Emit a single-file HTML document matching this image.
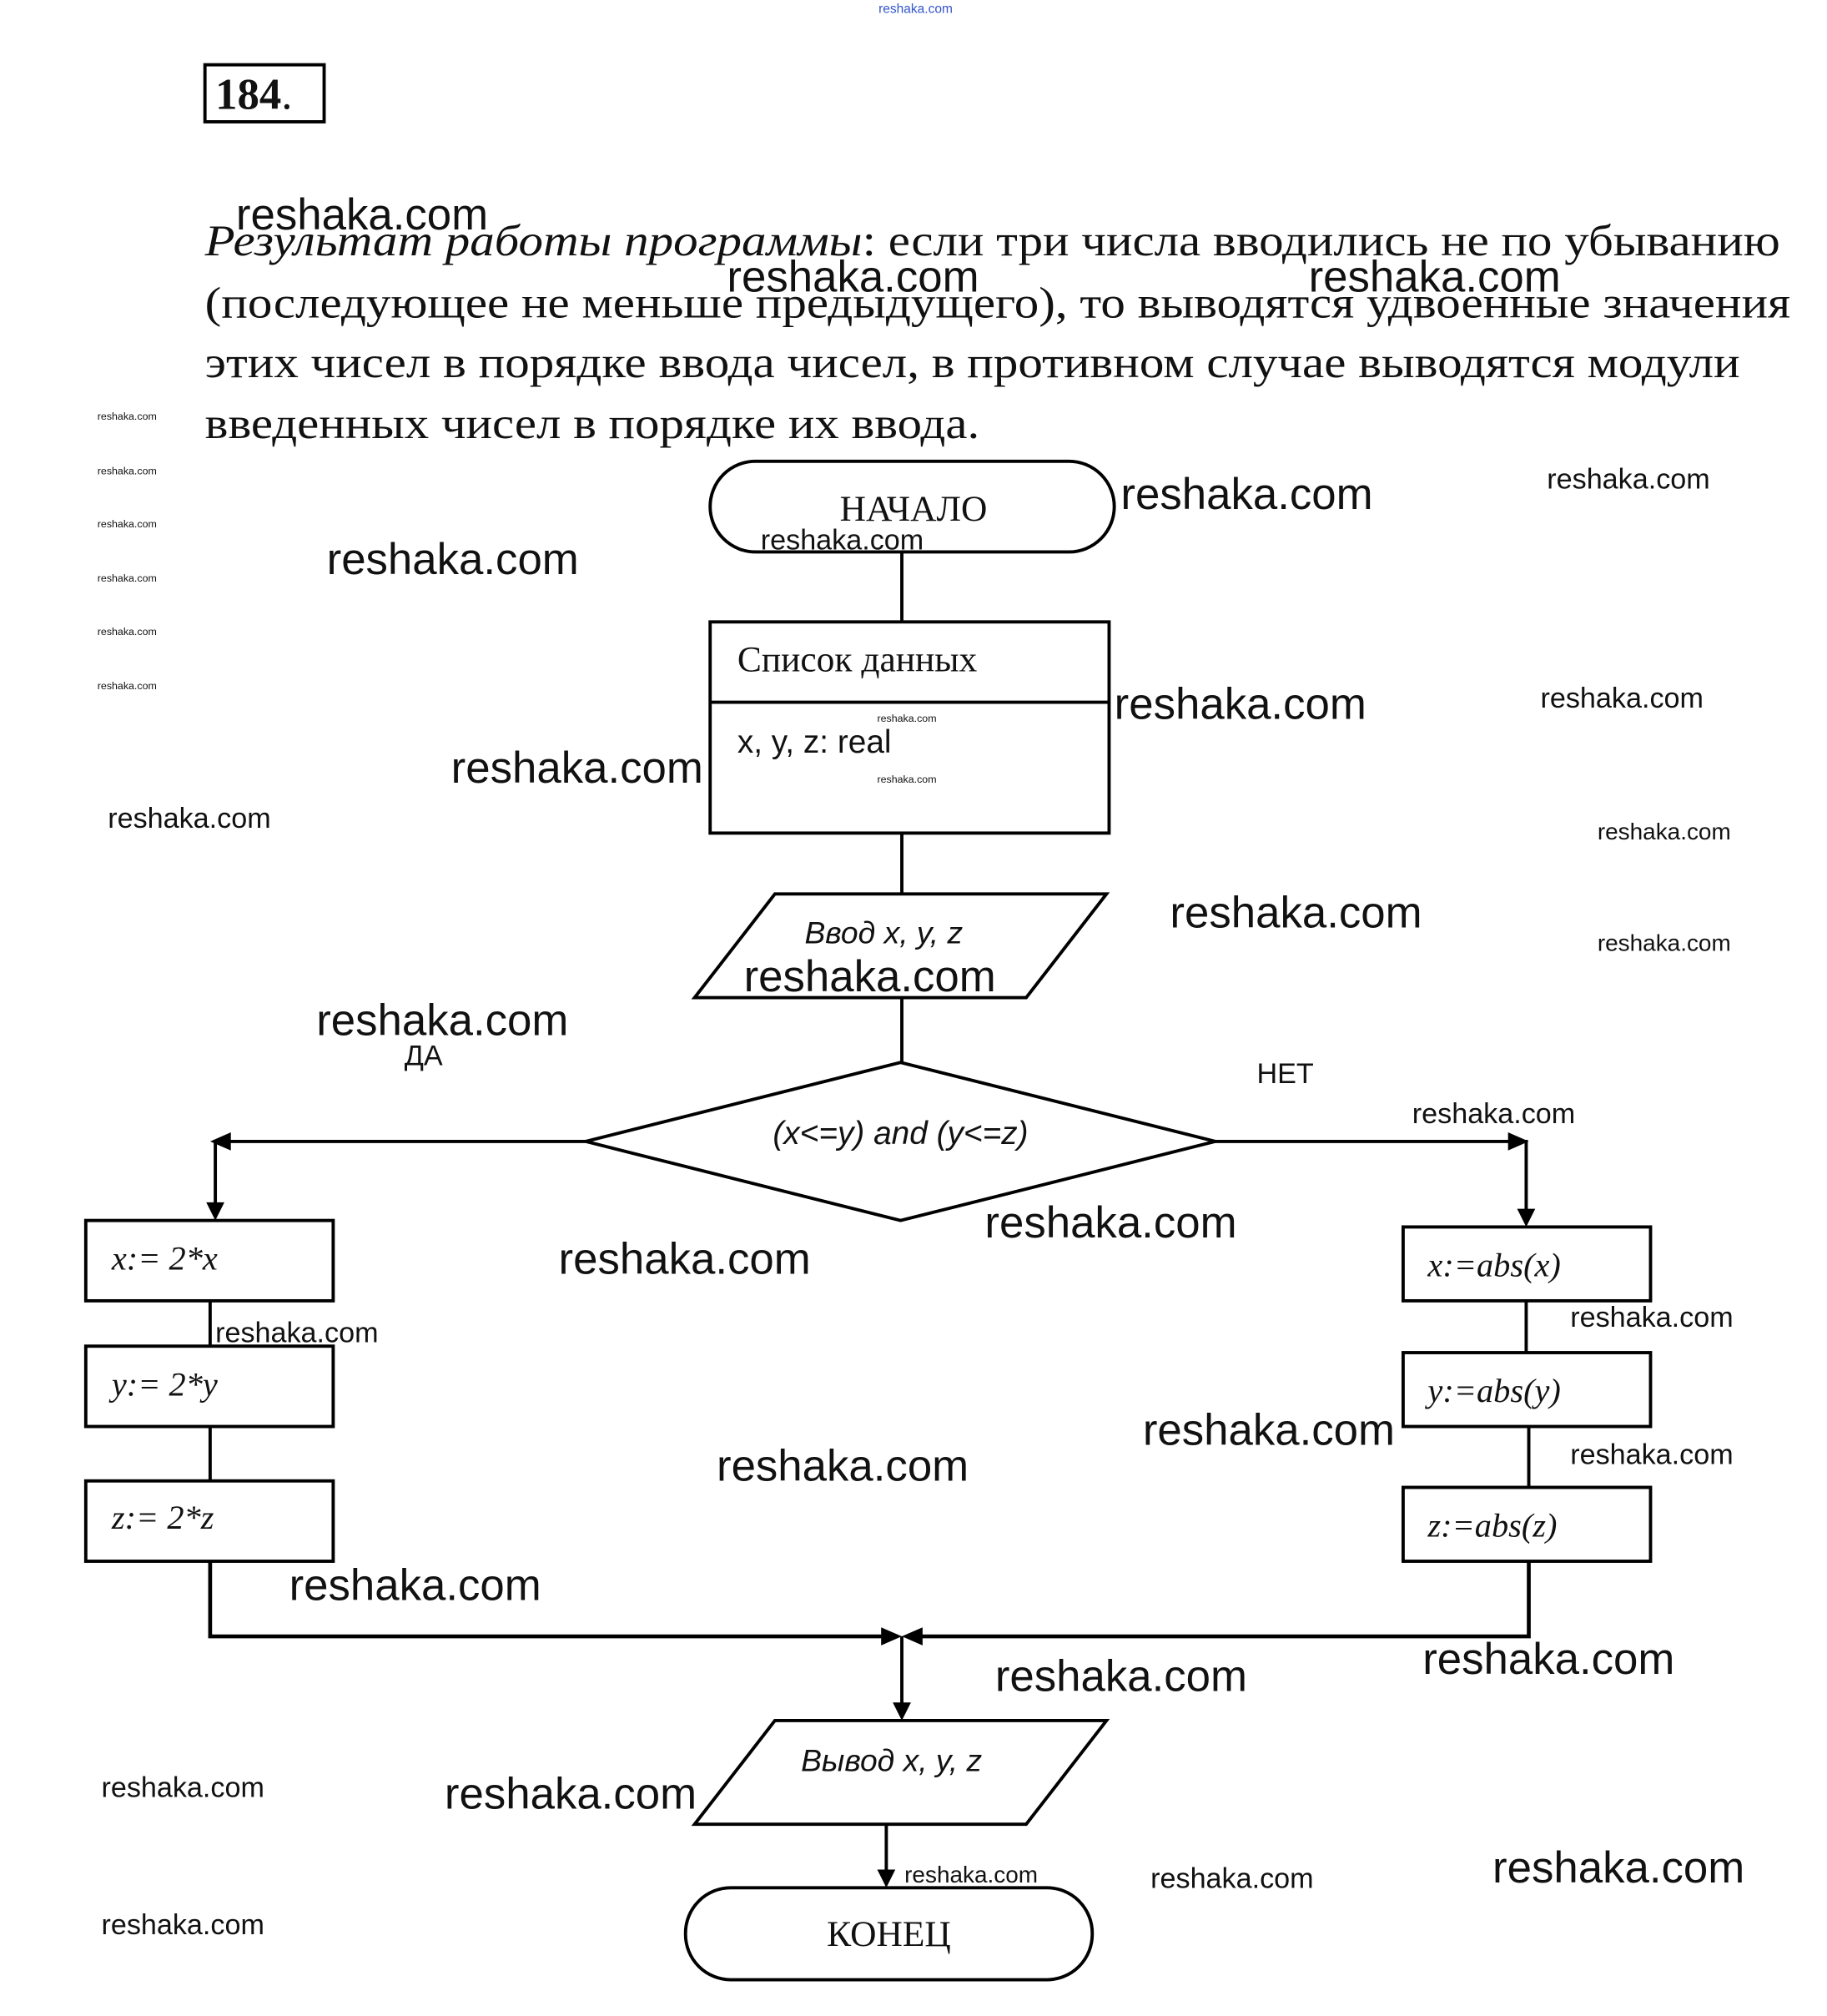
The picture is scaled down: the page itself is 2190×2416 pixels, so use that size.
<!DOCTYPE html>
<html><head><meta charset="utf-8"><style>
html,body{margin:0;padding:0;background:#fff;}
svg{display:block;}
.w{font-family:"Liberation Sans","DejaVu Sans",sans-serif;fill:#111;}
.s{font-family:"Liberation Serif","Noto Serif CJK SC",serif;fill:#111;}
.a{font-family:"Liberation Sans","DejaVu Sans",sans-serif;fill:#111;}
</style></head><body>
<svg width="2190" height="2416" viewBox="0 0 1410 1556" xmlns="http://www.w3.org/2000/svg">
<rect width="1410" height="1556" fill="#fff"/>
<g stroke="#000" stroke-width="2.5" fill="none">
<rect x="158" y="50" width="92" height="44"/>
<rect x="548" y="356" width="312" height="70" rx="35"/>
<line x1="696" y1="426" x2="696" y2="480"/>
<rect x="548" y="480" width="308" height="163"/>
<line x1="548" y1="542" x2="856" y2="542"/>
<line x1="696" y1="643" x2="696" y2="690"/>
<polygon points="598,690 854,690 792,770 536,770"/>
<line x1="696" y1="770" x2="696" y2="820"/>
<polygon points="452,881 695,820 938,881 695,942"/>
<polyline points="452,881 166,881 166,930"/>
<polyline points="938,881 1178,881 1178,935"/>
<rect x="66" y="942" width="191" height="62"/>
<rect x="66" y="1039" width="191" height="62"/>
<rect x="66" y="1143" width="191" height="62"/>
<line x1="162" y1="1004" x2="162" y2="1039"/>
<line x1="162" y1="1101" x2="162" y2="1143"/>
<rect x="1083" y="947" width="191" height="57"/>
<rect x="1083" y="1044" width="191" height="57"/>
<rect x="1083" y="1148" width="191" height="57"/>
<line x1="1178" y1="1004" x2="1178" y2="1044"/>
<line x1="1180" y1="1101" x2="1180" y2="1148"/>
<polyline points="162,1205 162,1263 684,1263" stroke-width="3"/>
<polyline points="1180,1205 1180,1263 708,1263" stroke-width="3"/>
<line x1="696" y1="1263" x2="696" y2="1316"/>
<polygon points="598,1328 854,1328 792,1408 536,1408"/>
<line x1="684" y1="1408" x2="684" y2="1444"/>
<rect x="529" y="1457" width="314" height="71" rx="35"/>
</g>
<g fill="#000">
<polygon points="162,881 178,874 178,888"/>
<polygon points="166,942 159,928 173,928"/>
<polygon points="1180,881 1164,874 1164,888"/>
<polygon points="1178,947 1171,933 1185,933"/>
<polygon points="696,1263 680,1256 680,1270"/>
<polygon points="696,1263 712,1256 712,1270"/>
<polygon points="696,1328 689,1314 703,1314"/>
<polygon points="684,1457 677,1443 691,1443"/>
</g>
<text class="s" x="166" y="84" font-size="34"><tspan font-weight="bold">184</tspan>.</text>
<g class="s" font-size="34">
<text x="158" y="197" textLength="1216" lengthAdjust="spacingAndGlyphs"><tspan font-style="italic">Результат работы программы</tspan>: если три числа вводились не по убыванию</text>
<text x="158" y="245" textLength="1224" lengthAdjust="spacingAndGlyphs">(последующее не меньше предыдущего), то выводятся удвоенные значения</text>
<text x="158" y="291" textLength="1185" lengthAdjust="spacingAndGlyphs">этих чисел в порядке ввода чисел, в противном случае выводятся модули</text>
<text x="158" y="338" textLength="598" lengthAdjust="spacingAndGlyphs">введенных чисел в порядке их ввода.</text>
</g>
<text class="s" x="705" y="402" font-size="28" text-anchor="middle">НАЧАЛО</text>
<text class="s" x="569" y="518" font-size="28">Список данных</text>
<text class="a" x="569" y="581" font-size="25">x, y, z: real</text>
<text class="a" x="682" y="728" font-size="24" font-style="italic" text-anchor="middle">Ввод  x, y, z</text>
<text class="a" x="695" y="883" font-size="25" font-style="italic" text-anchor="middle">(x&lt;=y) and (y&lt;=z)</text>
<text class="a" x="312" y="822" font-size="22" fill="#333">ДА</text>
<text class="a" x="970" y="836" font-size="22" fill="#333">НЕТ</text>
<g class="s" font-size="26" font-style="italic">
<text x="86" y="980">x:= 2*x</text>
<text x="86" y="1077">y:= 2*y</text>
<text x="86" y="1180">z:= 2*z</text>
<text x="1102" y="985">x:=abs(x)</text>
<text x="1102" y="1082">y:=abs(y)</text>
<text x="1102" y="1186">z:=abs(z)</text>
</g>
<text class="a" x="688" y="1367" font-size="24" font-style="italic" text-anchor="middle">Вывод x, y, z</text>
<text class="s" x="686" y="1502" font-size="28" text-anchor="middle">КОНЕЦ</text>
<g class="w" font-size="34">
<text x="182" y="177">reshaka.com</text>
<text x="561" y="225">reshaka.com</text>
<text x="1010" y="225">reshaka.com</text>
<text x="865" y="393">reshaka.com</text>
<text x="252" y="443">reshaka.com</text>
<text x="860" y="555">reshaka.com</text>
<text x="348" y="604">reshaka.com</text>
<text x="903" y="716">reshaka.com</text>
<text x="574" y="765">reshaka.com</text>
<text x="244" y="799">reshaka.com</text>
<text x="760" y="955">reshaka.com</text>
<text x="431" y="983">reshaka.com</text>
<text x="882" y="1115">reshaka.com</text>
<text x="553" y="1143">reshaka.com</text>
<text x="223" y="1235">reshaka.com</text>
<text x="1098" y="1292">reshaka.com</text>
<text x="768" y="1305">reshaka.com</text>
<text x="343" y="1396">reshaka.com</text>
<text x="1152" y="1453">reshaka.com</text>
</g>
<g class="w" font-size="22">
<text x="1194" y="377">reshaka.com</text>
<text x="587" y="424">reshaka.com</text>
<text x="1189" y="546">reshaka.com</text>
<text x="83" y="639">reshaka.com</text>
<text x="1090" y="867">reshaka.com</text>
<text x="166" y="1036">reshaka.com</text>
<text x="1212" y="1024">reshaka.com</text>
<text x="1212" y="1130">reshaka.com</text>
<text x="78" y="1387">reshaka.com</text>
<text x="888" y="1457">reshaka.com</text>
<text x="78" y="1493">reshaka.com</text>
</g>
<g class="w" font-size="18">
<text x="1233" y="648">reshaka.com</text>
<text x="1233" y="734">reshaka.com</text>
<text x="698" y="1453">reshaka.com</text>
</g>
<g class="w" font-size="8">
<text x="75" y="324">reshaka.com</text>
<text x="75" y="366">reshaka.com</text>
<text x="75" y="407">reshaka.com</text>
<text x="75" y="449">reshaka.com</text>
<text x="75" y="490">reshaka.com</text>
<text x="75" y="532">reshaka.com</text>
<text x="677" y="557">reshaka.com</text>
<text x="677" y="604">reshaka.com</text>
</g>
<text x="678" y="10" font-size="10" fill="#3355cc" font-family="Liberation Sans,sans-serif">reshaka.com</text>
</svg>
</body></html>
